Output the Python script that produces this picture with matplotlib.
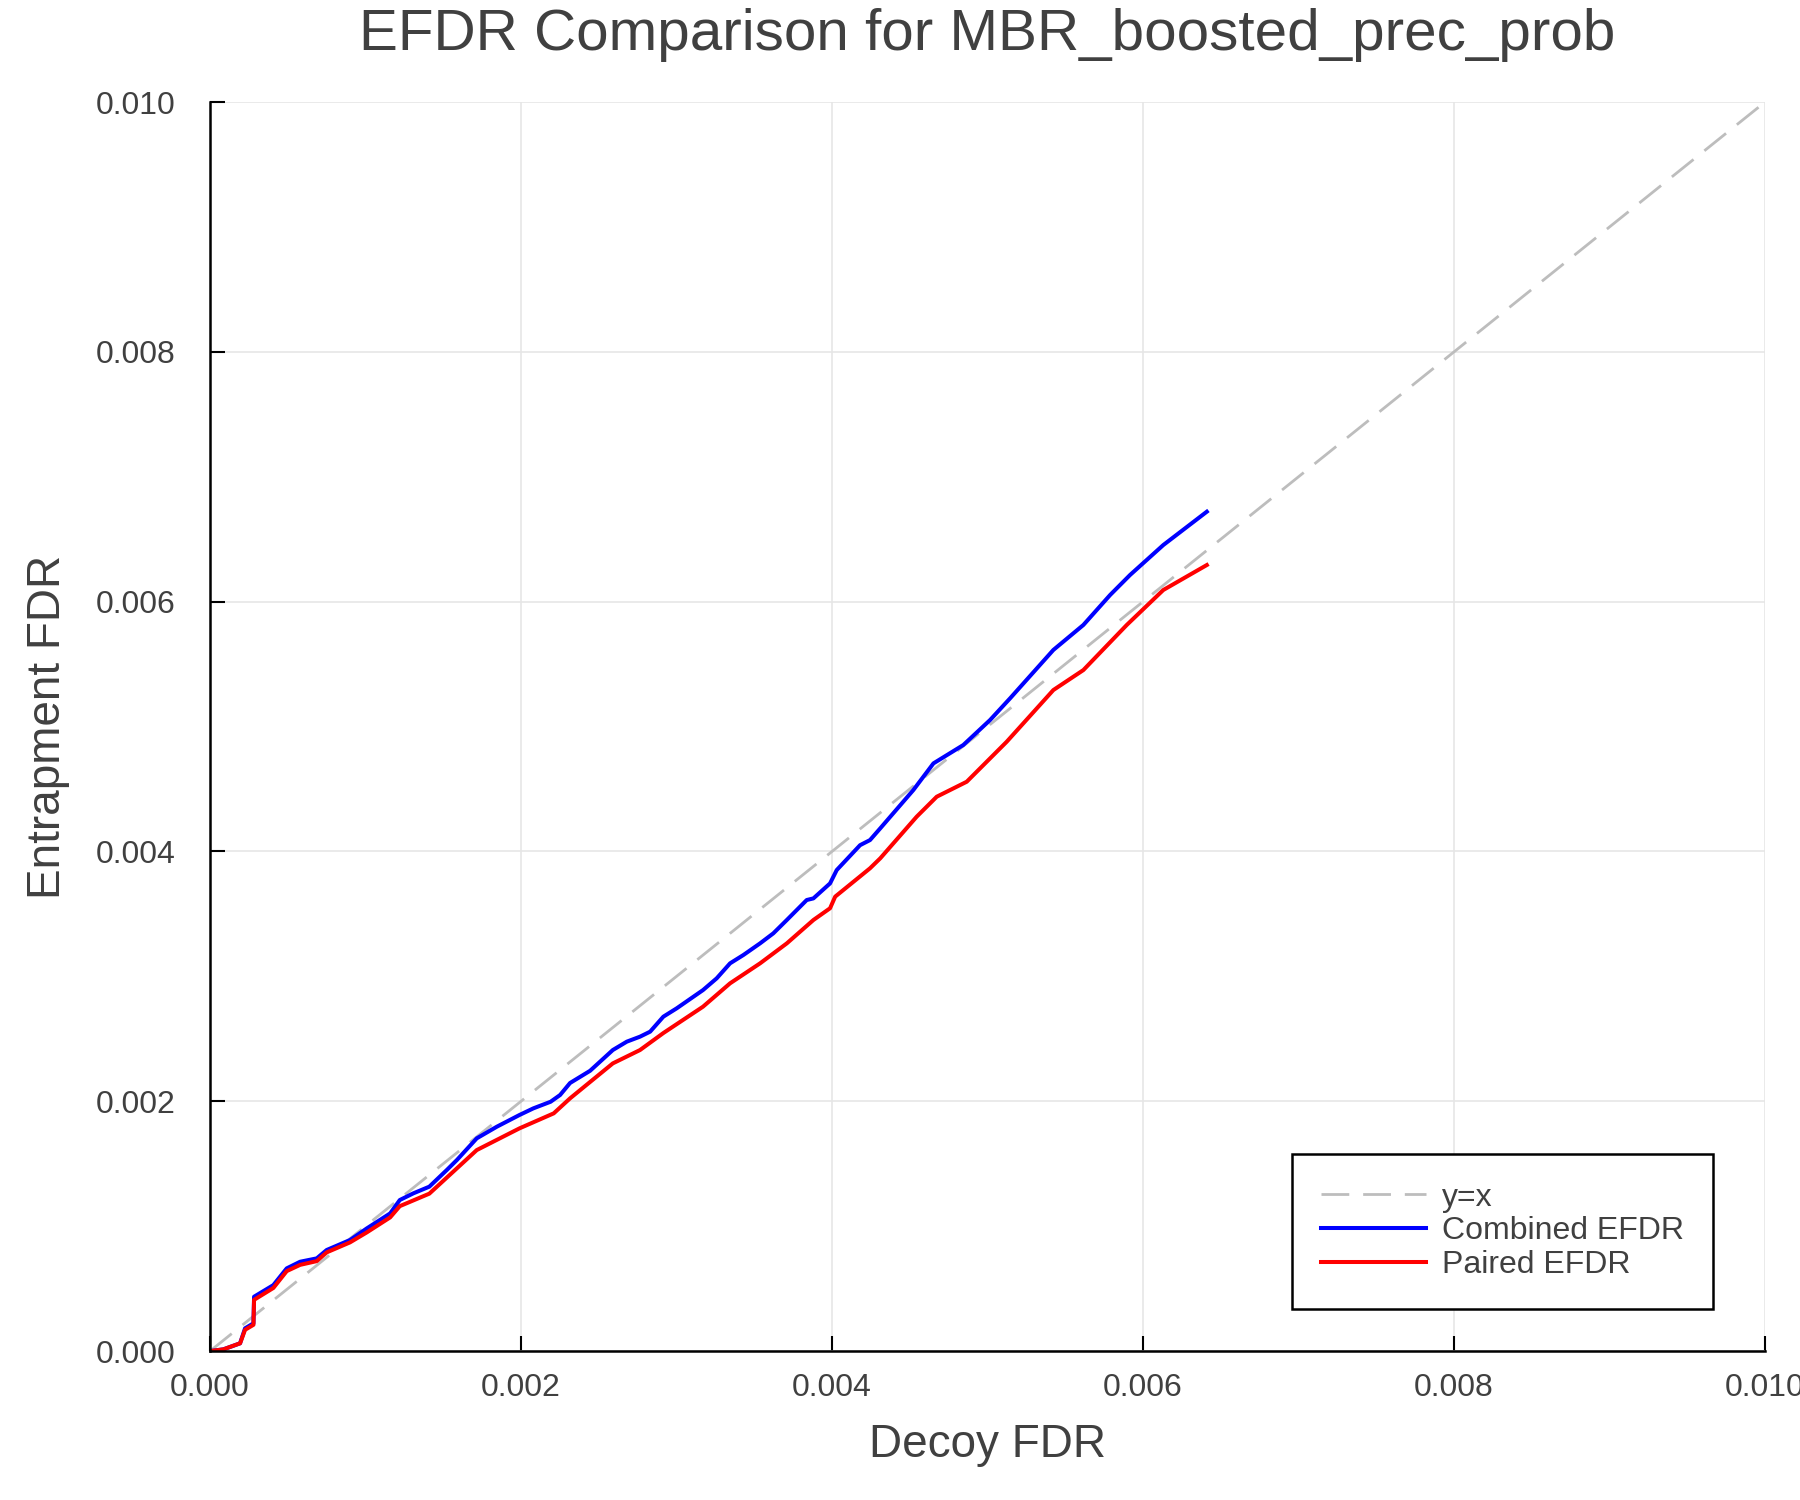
import numpy as np
import matplotlib.pyplot as plt

plt.rcParams['font.family'] = ['Liberation Sans', 'DejaVu Sans']

# Values
decoy_fdr_combined = [0, 0.0000857, 0.000193, 0.000225, 0.000279, 0.000283, 0.000407,
                      0.000493, 0.000579, 0.000686, 0.00075, 0.0009, 0.001008, 0.001158,
                      0.00122, 0.001308, 0.00141, 0.001522, 0.001587, 0.001715, 0.001844,
                      0.00199, 0.002079, 0.00219, 0.002251, 0.002315, 0.002444, 0.00259,
                      0.00268, 0.002765, 0.00283, 0.002915, 0.003001, 0.00317, 0.003258,
                      0.003344, 0.00343, 0.003537, 0.003622, 0.003709, 0.003837, 0.00388,
                      0.003987, 0.00403, 0.00418, 0.004244, 0.00431, 0.004523,
                      0.004652, 0.004844, 0.005016, 0.005145, 0.005423, 0.005616, 0.005788,
                      0.005916, 0.00613, 0.00641]
combined_efdr = [0, 0.0000136, 0.000062, 0.000182, 0.000222, 0.000435, 0.000528,
                 0.000662, 0.000715, 0.000742, 0.000809, 0.000889, 0.000982, 0.001102,
                 0.001209, 0.001263, 0.001316, 0.001449, 0.001529, 0.001703, 0.001796,
                 0.00189, 0.001943, 0.001996, 0.00205, 0.002146, 0.002244, 0.00241,
                 0.002477, 0.002517, 0.002557, 0.002677, 0.002744, 0.00289, 0.002984,
                 0.003104, 0.003171, 0.003264, 0.003344, 0.003451, 0.003611, 0.003624,
                 0.003744, 0.003851, 0.00405, 0.004091, 0.004185, 0.004492,
                 0.004705, 0.004852, 0.005052, 0.005226, 0.005613, 0.005813, 0.006053,
                 0.006213, 0.006453, 0.00672]

decoy_fdr_paired = [0, 0.0000857, 0.000193, 0.000225, 0.000279, 0.000283, 0.000407,
                    0.000493, 0.000579, 0.000686, 0.00075, 0.0009, 0.001008, 0.001158,
                    0.00122, 0.00141, 0.001715, 0.00199, 0.00221, 0.002315, 0.00259,
                    0.002765, 0.002915, 0.00317, 0.003344, 0.003537, 0.003709, 0.00388,
                    0.003987, 0.00402, 0.00418, 0.004244, 0.00431, 0.004544, 0.004673,
                    0.004866, 0.005123, 0.005423, 0.005616, 0.005895, 0.00613, 0.00641]
paired_efdr = [0, 0.0000136, 0.000062, 0.00017, 0.00021, 0.00041, 0.000505,
               0.00064, 0.00069, 0.00072, 0.00079, 0.00087, 0.00095, 0.00107,
               0.00116, 0.00126, 0.001609, 0.001783, 0.001903, 0.002023, 0.002303,
               0.00241, 0.002546, 0.002757, 0.002944, 0.003104, 0.003264, 0.003451,
               0.003545, 0.003638, 0.0038, 0.003865, 0.003945, 0.004278, 0.004438,
               0.004558, 0.004878, 0.005292, 0.005452, 0.005813, 0.006093, 0.006293]

diag = [0.0, 0.01]
ticks = [0.0, 0.002, 0.004, 0.006, 0.008, 0.010]
tick_labels = ['0.000', '0.002', '0.004', '0.006', '0.008', '0.010']

text_col = '#404040'

fig = plt.figure(figsize=(18, 15), dpi=100)
ax = fig.add_axes([0.1167, 0.0993, 0.8639, 0.8327])

ax.plot(diag, diag, color='#bdbdbd', lw=2.0, dashes=(10, 5), label='y=x')
ax.plot(decoy_fdr_combined, combined_efdr, color='blue', lw=2.9, label='Combined EFDR')
ax.plot(decoy_fdr_paired, paired_efdr, color='red', lw=2.9, label='Paired EFDR')

ax.set_xlim(0, 0.01);  ax.set_ylim(0, 0.01)
ax.set_xticks(ticks);  ax.set_xticklabels(tick_labels)
ax.set_yticks(ticks);  ax.set_yticklabels(tick_labels)
ax.grid(color='#e6e6e6', lw=1.2)
ax.set_axisbelow(True)

for s in ['top', 'right']:
    ax.spines[s].set_visible(False)
for s in ['left', 'bottom']:
    ax.spines[s].set_linewidth(1.8)
    ax.spines[s].set_color('black')
ax.tick_params(direction='in', length=11, width=1.5, color='black',
               labelsize=23, labelcolor=text_col)
ax.tick_params(axis='y', pad=25)
ax.tick_params(axis='x', pad=16)

ax.set_xlabel('Decoy FDR', fontsize=33, color=text_col, labelpad=14)
ax.set_ylabel('Entrapment FDR', fontsize=33, color=text_col, labelpad=18)
# title is centred over the plot area, not the whole figure
fig.text(0.5486, 0.977, 'EFDR Comparison for MBR_boosted_prec_prob', fontsize=42,
         color=text_col, ha='center', va='center')

leg = ax.legend(loc='lower right', bbox_to_anchor=(0.9666, 0.0336), fontsize=23,
                frameon=True, fancybox=False, framealpha=1, edgecolor='black',
                handlelength=3.3, handletextpad=0.5, labelspacing=0.12,
                borderpad=0.9, borderaxespad=0)
leg.get_frame().set_linewidth(1.8)
for t in leg.get_texts():
    t.set_color(text_col)

plt.savefig('out.png', dpi=100)
